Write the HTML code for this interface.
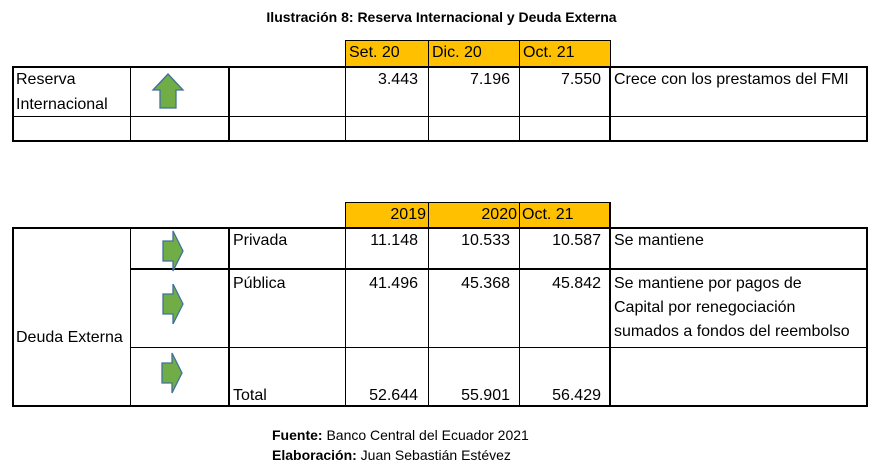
<!DOCTYPE html>
<html><head><meta charset="utf-8"><style>
body{margin:0;width:883px;height:471px;background:#fff;position:relative;overflow:hidden;font-family:"Liberation Sans",sans-serif;color:#000}
.l{position:absolute;background:#000}
.o{position:absolute;background:#FFC000}
.t{position:absolute;font-size:16px;line-height:24px;white-space:nowrap}
.r{text-align:right}
.b{font-weight:bold}
</style></head><body>
<div class="t b" style="left:0;width:883px;text-align:center;top:5px;font-size:14px">Ilustración 8: Reserva Internacional y Deuda Externa</div>

<div class="o" style="left:345px;top:41px;width:265px;height:25px"></div>
<div class="l" style="left:345px;top:40px;width:266px;height:1px"></div>
<div class="l" style="left:345px;top:40px;width:1px;height:26px"></div>
<div class="l" style="left:428px;top:40px;width:1px;height:26px"></div>
<div class="l" style="left:519px;top:40px;width:1px;height:26px"></div>
<div class="l" style="left:610px;top:40px;width:1px;height:26px"></div>
<div class="t" style="left:349px;top:41px">Set. 20</div>
<div class="t" style="left:432px;top:41px">Dic. 20</div>
<div class="t" style="left:523px;top:41px">Oct. 21</div>
<div class="l" style="left:12px;top:66px;width:856px;height:2px"></div>
<div class="l" style="left:12px;top:116px;width:856px;height:1px"></div>
<div class="l" style="left:12px;top:140px;width:856px;height:2px"></div>
<div class="l" style="left:12px;top:66px;width:2px;height:76px"></div>
<div class="l" style="left:130px;top:66px;width:1px;height:76px"></div>
<div class="l" style="left:228px;top:66px;width:2px;height:76px"></div>
<div class="l" style="left:345px;top:66px;width:1px;height:76px"></div>
<div class="l" style="left:428px;top:66px;width:1px;height:76px"></div>
<div class="l" style="left:519px;top:66px;width:1px;height:76px"></div>
<div class="l" style="left:609px;top:66px;width:2px;height:76px"></div>
<div class="l" style="left:866px;top:66px;width:2px;height:76px"></div>
<div class="t" style="left:16px;top:68px">Reserva</div>
<div class="t" style="left:16px;top:93px">Internacional</div>
<div class="t r" style="left:345px;width:73px;top:68px">3.443</div>
<div class="t r" style="left:428px;width:82px;top:68px">7.196</div>
<div class="t r" style="left:519px;width:82px;top:68px">7.550</div>
<div class="t" style="left:614px;top:68px">Crece con los prestamos del FMI</div>
<svg style="position:absolute;left:150px;top:72px" width="36" height="38"><polygon points="18,2 33,18 26,18 26,36 10,36 10,18 3,18" fill="#70AD47" stroke="#41719C" stroke-width="1.3"/></svg>

<div class="o" style="left:345px;top:203px;width:265px;height:25px"></div>
<div class="l" style="left:345px;top:202px;width:266px;height:1px"></div>
<div class="l" style="left:345px;top:202px;width:1px;height:26px"></div>
<div class="l" style="left:428px;top:202px;width:1px;height:26px"></div>
<div class="l" style="left:519px;top:202px;width:1px;height:26px"></div>
<div class="l" style="left:609px;top:202px;width:2px;height:26px"></div>
<div class="t r" style="left:345px;width:81px;top:203px">2019</div>
<div class="t r" style="left:428px;width:89px;top:203px">2020</div>
<div class="t" style="left:522px;top:203px">Oct. 21</div>
<div class="l" style="left:12px;top:227px;width:856px;height:2px"></div>
<div class="l" style="left:130px;top:268px;width:738px;height:2px"></div>
<div class="l" style="left:130px;top:347px;width:738px;height:1px"></div>
<div class="l" style="left:12px;top:405px;width:856px;height:2px"></div>
<div class="l" style="left:12px;top:227px;width:2px;height:180px"></div>
<div class="l" style="left:130px;top:227px;width:1px;height:180px"></div>
<div class="l" style="left:228px;top:227px;width:2px;height:180px"></div>
<div class="l" style="left:345px;top:227px;width:1px;height:180px"></div>
<div class="l" style="left:428px;top:227px;width:1px;height:180px"></div>
<div class="l" style="left:519px;top:227px;width:1px;height:180px"></div>
<div class="l" style="left:609px;top:227px;width:2px;height:180px"></div>
<div class="l" style="left:866px;top:227px;width:2px;height:180px"></div>
<div class="t" style="left:16px;top:326px">Deuda Externa</div>
<div class="t" style="left:233px;top:229px">Privada</div>
<div class="t" style="left:233px;top:272px">Pública</div>
<div class="t" style="left:233px;top:384px">Total</div>
<div class="t r" style="left:345px;width:73px;top:229px">11.148</div>
<div class="t r" style="left:428px;width:82px;top:229px">10.533</div>
<div class="t r" style="left:519px;width:82px;top:229px">10.587</div>
<div class="t r" style="left:345px;width:73px;top:272px">41.496</div>
<div class="t r" style="left:428px;width:82px;top:272px">45.368</div>
<div class="t r" style="left:519px;width:82px;top:272px">45.842</div>
<div class="t r" style="left:345px;width:73px;top:384px">52.644</div>
<div class="t r" style="left:428px;width:82px;top:384px">55.901</div>
<div class="t r" style="left:519px;width:82px;top:384px">56.429</div>
<div class="t" style="left:614px;top:229px">Se mantiene</div>
<div class="t" style="left:614px;top:272px">Se mantiene por pagos de</div>
<div class="t" style="left:614px;top:296px">Capital por renegociación</div>
<div class="t" style="left:614px;top:320px">sumados a fondos del reembolso</div>
<svg style="position:absolute;left:160px;top:229px" width="26" height="46"><polygon points="3,12 13,12 13,2 23,22 13,42 13,32 3,32" fill="#70AD47" stroke="#41719C" stroke-width="1.3"/></svg>
<svg style="position:absolute;left:160px;top:282px" width="26" height="46"><polygon points="3,12 13,12 13,2 23,22 13,42 13,32 3,32" fill="#70AD47" stroke="#41719C" stroke-width="1.3"/></svg>
<svg style="position:absolute;left:159px;top:351px" width="26" height="46"><polygon points="3,12 13,12 13,2 23,22 13,42 13,32 3,32" fill="#70AD47" stroke="#41719C" stroke-width="1.3"/></svg>

<div class="t" style="left:272px;top:425px;font-size:14px;line-height:20px"><b>Fuente:</b> Banco Central del Ecuador 2021</div>
<div class="t" style="left:272px;top:445px;font-size:14px;line-height:20px"><b>Elaboración:</b> Juan Sebastián Estévez</div>
</body></html>
